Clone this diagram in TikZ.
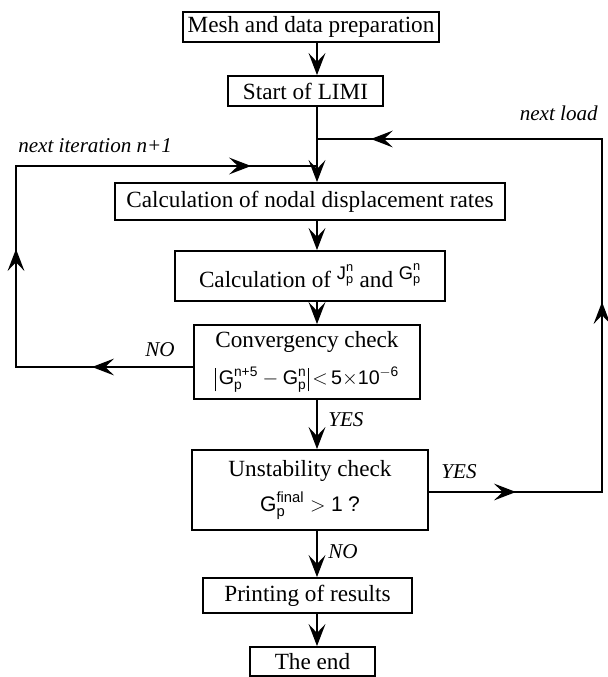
\documentclass[tikz,border=0pt]{standalone}
\usepackage{amsmath}
\usepackage{fontspec}
\setmainfont{Liberation Serif}
\setsansfont{Liberation Sans}
\usepackage{tikz}
\usetikzlibrary {arrows.meta}
\usetikzlibrary {decorations.markings}

\newcommand{\gsym}[3]{\textsf{#1}^{\textsf{#2}}_{\textsf{#3}}}
\newcommand{\absbar}{\rule[-5pt]{0.7pt}{17pt}}

\tikzset{
  stepbox/.style={draw, line width=1.3pt, inner sep=0pt, align=center,
    font=\fontsize{16.5}{19}\selectfont},
  flow/.style={line width=1.3pt, -{Stealth[length=5.5mm,width=4.2mm,inset=2.2mm]}},
  loopline/.style={line width=1.3pt, line join=miter},
  tipat/.style={postaction={decorate,decoration={markings,
    mark=at position #1 with {\arrow{Stealth[length=5.5mm,width=4.2mm,inset=2.2mm]}}}}},
  lbl/.style={inner sep=0pt, font=\fontsize{15}{18}\selectfont\itshape},
}

\begin{document}
\begin{tikzpicture}[x=0.025cm,y=-0.025cm]
  \useasboundingbox (0,0) rectangle (607,677);
  \coordinate (spine) at (317,0);%main line

  % boxes
  \node[stepbox, minimum width=6.4cm, minimum height=0.75cm] (mesh) at (311,27) {Mesh and data preparation};
  \node[stepbox, minimum width=3.875cm, minimum height=0.75cm] (start) at (305.5,91) {Start of LIMI};
  \node[stepbox, minimum width=9.75cm, minimum height=0.925cm] (nodal) at (310,201.5) {Calculation of nodal displacement rates};
  \node[stepbox, minimum width=6.75cm, minimum height=1.25cm] (calcjg) at (310,276)
    {Calculation of \raisebox{6pt}{\fontsize{13}{15}\selectfont$\gsym{J}{n}{p}$} and \raisebox{6pt}{\fontsize{13}{15}\selectfont$\gsym{G}{n}{p}$}};
  \node[stepbox, minimum width=5.65cm, minimum height=1.85cm] (conv) at (307,362)
    {Convergency check\\[7pt] {\fontsize{14}{16}\selectfont\absbar\kern2pt$\gsym{G}{n+5}{p}-\gsym{G}{n}{p}$\kern1pt\absbar$\,{<}\,\textsf{5}{\times}\textsf{10}^{-\textsf{6}}$}};
  \node[stepbox, minimum width=5.9cm, minimum height=2.0cm] (unst) at (310,490)
    {Unstability check\\[6pt] {\fontsize{15}{17}\selectfont$\gsym{G}{final}{p}>\textsf{1}$ \textsf{?}}};
  \node[stepbox, minimum width=5.225cm, minimum height=0.875cm] (print) at (307.5,595.5) {Printing of results};
  \node[stepbox, minimum width=3.125cm, minimum height=0.725cm] (theend) at (312.5,661.5) {The end};

  % loop corners
  \coordinate (loadjoin) at (317,139);
  \coordinate (loadcorner) at (602,139);
  \coordinate (yescorner) at (602,492);
  \coordinate (iterjoin) at (317,166);
  \coordinate (itercorner) at (16,166);
  \coordinate (nocorner) at (16,367);

  % main flow
  \draw[flow] (mesh.south -| spine) -- (start.north -| spine);
  \draw[flow] (start.south -| spine) -- (nodal.north -| spine);
  \draw[flow] (nodal.south -| spine) -- (calcjg.north -| spine);
  \draw[flow] (calcjg.south -| spine) -- (conv.north -| spine);
  \draw[flow] (conv.south -| spine) -- (unst.north -| spine);
  \draw[flow] (unst.south -| spine) -- (print.north -| spine);
  \draw[flow] (print.south -| spine) -- (theend.north -| spine);

  % loops
  \draw[loopline, tipat=2.525cm, tipat=7.375cm, tipat=15.325cm]
    (conv.west |- nocorner) -- (nocorner) -- (itercorner) -- (iterjoin);
  \draw[loopline, tipat=2.175cm, tipat=9.075cm, tipat=18.925cm]
    (unst.east |- yescorner) -- (yescorner) -- (loadcorner) -- (loadjoin);

  % labels
  \node[lbl, anchor=east] (loadlbl) at (598,113) {next load};
  \node[lbl, anchor=west] (iterlbl) at (18,146) {next iteration n+1};
  \node[lbl] (nolbl) at (160,350) {NO};
  \node[lbl] (yeslbl) at (459,472) {YES};
  \node[lbl, anchor=west] (convyes) at (328,420) {YES};
  \node[lbl, anchor=west] (unstno) at (328,552) {NO};
\end{tikzpicture}
\end{document}
